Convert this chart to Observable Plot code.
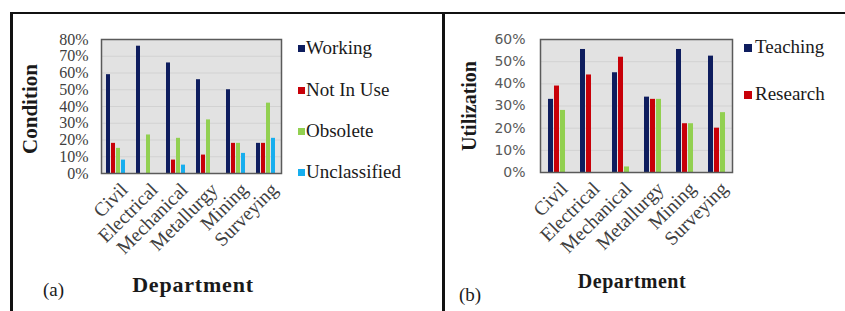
<!DOCTYPE html>
<html>
<head>
<meta charset="utf-8">
<script src="https://cdn.jsdelivr.net/npm/d3@7"></script>
<script src="https://cdn.jsdelivr.net/npm/@observablehq/plot@0.6"></script>
<style>
  html, body { margin: 0; padding: 0; background: #fff; }
  #wrap { position: relative; width: 845px; height: 311px; background: #fff; overflow: hidden; }
  .abs { position: absolute; }
  .line { position: absolute; background: #111; }
  .lbl { position: absolute; font-family: "Liberation Serif", "Times New Roman", serif; color: #1a1a1a; white-space: nowrap; }
  .ttl { font-weight: bold; transform: translate(-50%, -50%); }
  .vt { transform: translate(-50%, -50%) rotate(-90deg); }
  .leg { position: absolute; font-family: "Liberation Serif", "Times New Roman", serif; font-size: 19px; line-height: 19px; color: #1a1a1a; white-space: nowrap; }
  .leg span { font-family: "Liberation Serif", "Times New Roman", serif; }
  .sw { position: absolute; }
  #pa svg [aria-label^="fx-axis"] text, #pb svg [aria-label^="fx-axis"] text { font-size: 19.5px; font-family: "Liberation Serif", serif; fill: #404040; }
  #pa svg [aria-label^="y-axis"] text { font-size: 16px; font-family: "Liberation Serif", serif; fill: #404040; }
  #pb svg [aria-label^="y-axis"] text { font-size: 14px; font-family: "DejaVu Sans", sans-serif; fill: #595959; }
</style>
</head>
<body>
<div id="wrap">
  <div id="pa" class="abs" style="left:0;top:0"></div>
  <div id="pb" class="abs" style="left:430px;top:0"></div>
</div>
<script>
// ---- data ----
const departments = ["Civil", "Electrical", "Mechanical", "Metallurgy", "Mining", "Surveying"];

// (a) Condition
const conditionSeries = ["Working", "Not In Use", "Obsolete", "Unclassified"];
const working      = [59, 76, 66, 56, 50, 18];
const notInUse     = [18,  0,  8, 11, 18, 18];
const obsolete     = [15, 23, 21, 32, 18, 42];
const unclassified = [ 8,  0,  5,  0, 12, 21];
const conditionColors = ["#0e1d5e", "#c80008", "#92d050", "#17aeee"];
const conditionTicks = [0, 10, 20, 30, 40, 50, 60, 70, 80];

// (b) Utilization (third series has no legend entry)
const utilizationSeries = ["Teaching", "Research", "Unlabelled"];
const utilizationLegend = ["Teaching", "Research"];
const teaching   = [33, 55.5, 45, 34, 55.5, 52.5];
const research   = [39, 44, 52, 33, 22, 20];
const unlabelled = [28, 0, 2.5, 33, 22, 27];
const utilizationColors = ["#0e1d5e", "#c80008", "#92d050"];
const utilizationTicks = [0, 10, 20, 30, 40, 50, 60];

// ---- tables ----
const condValues = [working, notInUse, obsolete, unclassified];
const tableA = departments.flatMap((dept, i) =>
  conditionSeries.map((series, j) => ({dept, series, value: condValues[j][i]})));
const utilValues = [teaching, research, unlabelled];
const tableB = departments.flatMap((dept, i) =>
  utilizationSeries.map((series, j) => ({dept, series, value: utilValues[j][i]})));

function chart({table, series, colors, ticks, width, marginLeft, marginRight, marginBottom, xPadIn, xPadOut, tickPadding}) {
  const ymax = ticks[ticks.length - 1];
  return Plot.plot({
    width, height: 311,
    marginLeft, marginRight, marginTop: 39, marginBottom,
    style: {fontFamily: "Liberation Serif, serif", fontSize: "17px", background: "transparent", overflow: "visible", color: "#404040"},
    fx: {domain: departments, padding: 0, label: null},
    x: {domain: series, axis: null, paddingInner: xPadIn, paddingOuter: xPadOut},
    y: {domain: [0, ymax], ticks, tickFormat: d => d + "%", tickSize: 0, tickPadding, label: null},
    color: {domain: series, range: colors},
    marks: [
      Plot.frame({fill: "#e2e2e2", facet: "super"}),
      Plot.ruleY(ticks.slice(1, -1), {stroke: "#d2d2d2", strokeWidth: 1}),
      Plot.barY(table, {fx: "dept", x: "series", y: "value", fill: "series"}),
      Plot.frame({stroke: "#5a5a5a", strokeWidth: 1.5, facet: "super"}),
      Plot.axisFx({anchor: "bottom", tickRotate: -45, tickSize: 0, tickPadding: 8, dx: 8, dy: 5, label: null})
    ]
  });
}

document.getElementById("pa").appendChild(chart({
  table: tableA, series: conditionSeries, colors: conditionColors, ticks: conditionTicks,
  width: 430, marginLeft: 98, marginRight: 147, marginBottom: 138,
  xPadIn: 0.12, xPadOut: 0.85, tickPadding: 13
}));
document.getElementById("pb").appendChild(chart({
  table: tableB, series: utilizationSeries, colors: utilizationColors, ticks: utilizationTicks,
  width: 415, marginLeft: 109, marginRight: 113, marginBottom: 139,
  xPadIn: 0.2, xPadOut: 0.97, tickPadding: 15
}));

// ---- text, legends, borders ----
const wrap = d3.select("#wrap");
function label(text, left, top, cls, style) {
  wrap.append("div").attr("class", "lbl " + cls).attr("style", `left:${left}px;top:${top}px;${style}`).text(text);
}
label("Condition", 30, 108.5, "ttl vt", "font-size:21px;line-height:21px;");
label("Utilization", 469, 106, "ttl vt", "font-size:20px;line-height:20px;");
label("Department", 193, 285, "ttl", "font-size:22px;line-height:22px;letter-spacing:0.8px;");
label("Department", 632, 281, "ttl", "font-size:20px;line-height:20px;letter-spacing:0.5px;");
label("(a)", 43, 289, "", "font-size:19px;line-height:19px;transform:translateY(-50%);");
label("(b)", 459, 294, "", "font-size:19px;line-height:19px;transform:translateY(-50%);");

function legend(names, colors, swLeft, swSize, textLeft, baselines) {
  names.forEach((name, i) => {
    const row = wrap.append("div").attr("class", "leg")
      .attr("style", `left:${swLeft}px;top:${baselines[i] - 16}px;padding-left:${textLeft - swLeft}px;`);
    row.append("span").attr("class", "sw")
      .attr("style", `left:0;top:${16 - 5.5 - swSize / 2}px;width:${swSize}px;height:${swSize}px;background:${colors[i]};`);
    row.append("span").text(name);
  });
}
legend(conditionSeries, conditionColors, 298, 7, 306, [54, 95.5, 137, 178.3]);
legend(utilizationLegend, utilizationColors, 744, 8, 755, [53, 100]);

wrap.append("div").attr("class", "line").attr("style", "left:10px;top:12px;width:835px;height:2px;");
wrap.append("div").attr("class", "line").attr("style", "left:10px;top:12px;width:3px;height:299px;");
wrap.append("div").attr("class", "line").attr("style", "left:442px;top:12px;width:3px;height:299px;");
</script>
</body>
</html>
